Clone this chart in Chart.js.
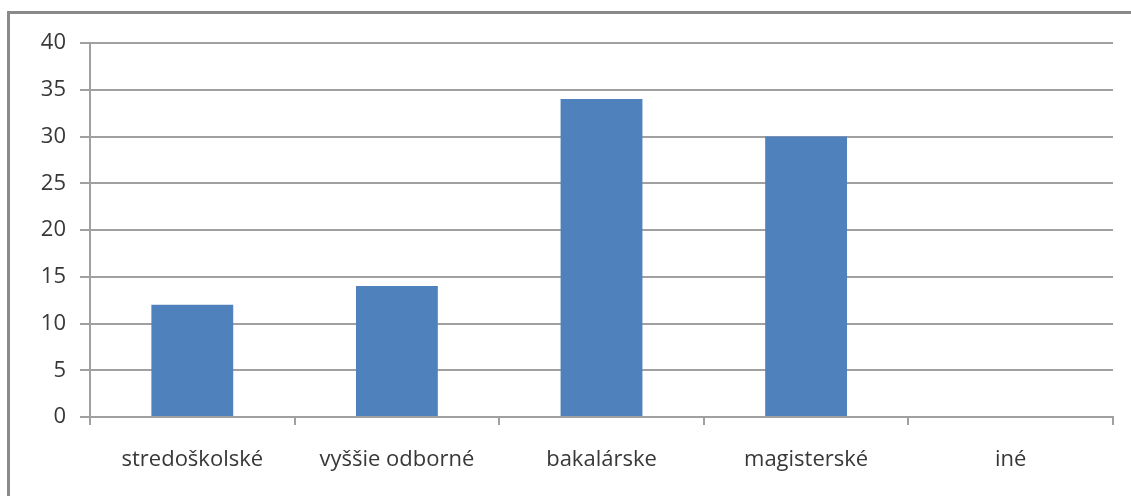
<!DOCTYPE html>
<html>
<head>
<meta charset="utf-8">
<script src="https://cdn.jsdelivr.net/npm/chart.js@4/dist/chart.umd.min.js"></script>
<style>
  html, body { margin: 0; padding: 0; background: #fff; overflow: hidden; }
  .frame {
    position: absolute; left: 7px; top: 11px; width: 1200px; height: 600px;
    border-top: 3px solid #8a8a8a; border-left: 3px solid #8a8a8a;
  }
  .wrap { position: absolute; left: 0; top: 0; width: 1131px; height: 496px; }
</style>
</head>
<body>
<div class="frame"></div>
<div class="wrap"><canvas id="educationChart" width="1131" height="496"></canvas></div>
<script>
//// data
const categories = ["stredoškolské", "vyššie odborné", "bakalárske", "magisterské", "iné"];
const counts = [12, 14, 34, 30, 0];
const yTicks = [0, 5, 10, 15, 20, 25, 30, 35, 40];

const axisGray = "#a0a0a0";
const labelColor = "#383838";
const labelFont = { family: "Open Sans", size: 22 };

const ctx = document.getElementById("educationChart").getContext("2d");
new Chart(ctx, {
  type: "bar",
  data: {
    labels: categories,
    datasets: [{
      data: counts,
      backgroundColor: "#4f81bd",
      borderWidth: 0,
      categoryPercentage: 1,
      barPercentage: 0.4
    }]
  },
  options: {
    responsive: false,
    animation: false,
    layout: { padding: { top: 43, right: 18, left: 0, bottom: 0 } },
    plugins: { legend: { display: false }, tooltip: { enabled: false } },
    scales: {
      x: {
        grid: { drawOnChartArea: false, drawTicks: true, tickLength: 8, color: axisGray, lineWidth: 2, offset: true },
        border: { color: axisGray, width: 2 },
        ticks: { color: labelColor, font: labelFont, padding: 22, maxRotation: 0 },
        afterFit: (scale) => { scale.height = 79; }
      },
      y: {
        min: 0,
        max: 40,
        afterBuildTicks: (scale) => { scale.ticks = yTicks.map(v => ({ value: v })); },
        grid: { color: axisGray, lineWidth: 2, tickLength: 10 },
        border: { color: axisGray, width: 2 },
        ticks: { color: labelColor, font: labelFont, padding: 14 },
        afterFit: (scale) => { scale.width = 90; }
      }
    }
  }
});
</script>
</body>
</html>
